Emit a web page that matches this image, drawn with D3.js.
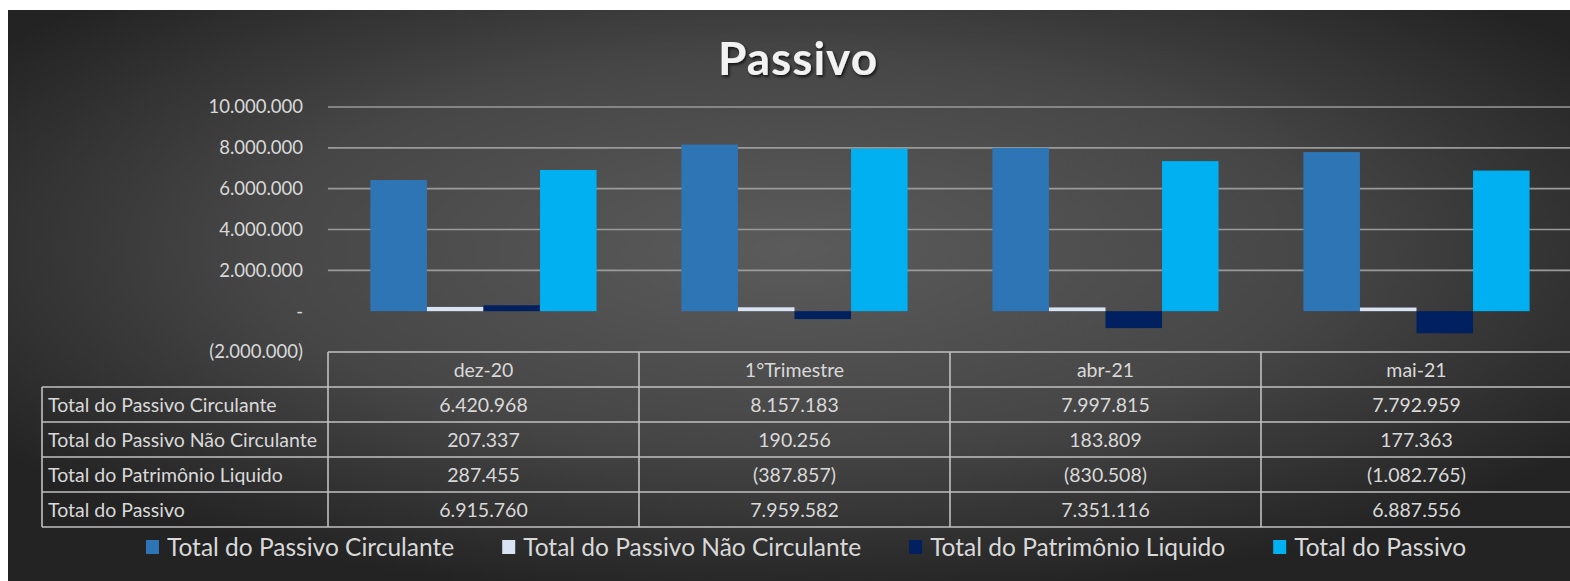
<!DOCTYPE html>
<html>
<head>
<meta charset="utf-8">
<script src="https://cdn.jsdelivr.net/npm/d3@7"></script>
<style>
  body { margin: 0; background: #fff; }
  svg { display: block; font-family: Lato, "Liberation Sans", sans-serif; }
</style>
</head>
<body>
<div id="chart"></div>
<script>
// data
const categories = ['dez-20', '1°Trimestre', 'abr-21', 'mai-21'];
const seriesNames = ['Total do Passivo Circulante', 'Total do Passivo Não Circulante', 'Total do Patrimônio Liquido', 'Total do Passivo'];
const circulante = [6420968, 8157183, 7997815, 7792959];
const naoCirculante = [207337, 190256, 183809, 177363];
const patrimonio = [287455, -387857, -830508, -1082765];
const totalPassivo = [6915760, 7959582, 7351116, 6887556];
const yTicks = [-2000000, 0, 2000000, 4000000, 6000000, 8000000, 10000000];
const colors = ['#2e75b6', '#dae3f3', '#002060', '#00b0f0'];

const seriesValues = [circulante, naoCirculante, patrimonio, totalPassivo];

const width = 1570, height = 581;
const tableTop = 352, rowH = 35, labelLeft = 42;

const locale = d3.formatLocale({decimal: ',', thousands: '.', grouping: [3], currency: ['R$', '']});
const fmtInt = locale.format(',.0f');
const fmtNum = v => v === 0 ? '-' : (v < 0 ? '(' + fmtInt(-v) + ')' : fmtInt(v));

const svg = d3.select('#chart').append('svg')
    .attr('width', width)
    .attr('height', height);

const defs = svg.append('defs');
const grad = defs.append('radialGradient')
    .attr('id', 'bg')
    .attr('cx', 0.5).attr('cy', 0.42).attr('r', 0.62);
grad.append('stop').attr('offset', '0%').attr('stop-color', '#5b5b5b');
grad.append('stop').attr('offset', '55%').attr('stop-color', '#464646');
grad.append('stop').attr('offset', '100%').attr('stop-color', '#232323');

const shadow = defs.append('filter').attr('id', 'shadow')
    .attr('x', '-10%').attr('y', '-20%').attr('width', '130%').attr('height', '150%');
shadow.append('feDropShadow')
    .attr('dx', 1.5).attr('dy', 2).attr('stdDeviation', 1.5)
    .attr('flood-color', '#000').attr('flood-opacity', 0.7);

svg.append('rect')
    .attr('x', 8).attr('y', 10)
    .attr('width', width - 8).attr('height', height - 10)
    .attr('fill', 'url(#bg)');

// title
svg.append('text')
    .attr('x', 798).attr('y', 75)
    .attr('text-anchor', 'middle')
    .attr('fill', '#f2f2f2')
    .style('font-size', '46px')
    .style('font-weight', 'bold')
    .style('letter-spacing', '1px')
    .attr('filter', 'url(#shadow)')
    .text('Passivo');

const x0 = d3.scaleBand()
    .domain(categories)
    .range([328, 328 + 4 * 311]);

const x1 = d3.scaleBand()
    .domain(seriesNames)
    .range([0, x0.bandwidth()])
    .paddingOuter(0.75);

const y = d3.scaleLinear()
    .domain([-2000000, 10000000])
    .range([tableTop, 107]);

// gridlines
svg.append('g')
    .selectAll('line')
    .data(yTicks.filter(d => d > 0))
    .join('line')
    .attr('x1', 328).attr('x2', width)
    .attr('y1', d => y(d)).attr('y2', d => y(d))
    .attr('stroke', '#9a9a9a')
    .attr('stroke-width', 1.6);

// y axis
const yAxis = svg.append('g')
    .attr('transform', 'translate(305,0)')
    .call(d3.axisLeft(y).tickValues(yTicks).tickSize(0).tickPadding(2).tickFormat(fmtNum));
yAxis.select('.domain').remove();
yAxis.selectAll('text')
    .attr('fill', '#d9d9d9')
    .style('font-size', '18.5px')
    .style('font-family', 'Lato, "Liberation Sans", sans-serif');

// bars
const groups = svg.append('g')
    .selectAll('g')
    .data(categories)
    .join('g')
    .attr('transform', d => `translate(${x0(d)},0)`);

groups.selectAll('rect')
    .data((c, i) => seriesNames.map((s, j) => ({s: s, v: seriesValues[j][i], c: colors[j]})))
    .join('rect')
    .attr('x', d => x1(d.s))
    .attr('width', x1.bandwidth())
    .attr('y', d => y(Math.max(0, d.v)))
    .attr('height', d => Math.abs(y(d.v) - y(0)))
    .attr('fill', d => d.c);

// data table
const table = svg.append('g');
const lineColor = '#c0c0c0';
const right = x0.range()[1];
const tableBottom = tableTop + rowH * (seriesNames.length + 1);

// horizontal lines
table.append('line')
    .attr('x1', x0.range()[0]).attr('x2', right)
    .attr('y1', tableTop).attr('y2', tableTop);
table.selectAll('.hline')
    .data(d3.range(1, seriesNames.length + 2))
    .join('line')
    .attr('class', 'hline')
    .attr('x1', labelLeft).attr('x2', right)
    .attr('y1', d => tableTop + d * rowH).attr('y2', d => tableTop + d * rowH);
// vertical lines
table.append('line')
    .attr('x1', labelLeft).attr('x2', labelLeft)
    .attr('y1', tableTop + rowH).attr('y2', tableBottom);
table.selectAll('.vline')
    .data(categories)
    .join('line')
    .attr('class', 'vline')
    .attr('x1', d => x0(d)).attr('x2', d => x0(d))
    .attr('y1', tableTop).attr('y2', tableBottom);
table.selectAll('line')
    .attr('stroke', lineColor)
    .attr('stroke-width', 1.6);

const cellFont = '19.5px';
// header
table.selectAll('.head')
    .data(categories)
    .join('text')
    .attr('class', 'head')
    .attr('x', d => x0(d) + x0.bandwidth() / 2)
    .attr('y', tableTop + rowH / 2)
    .attr('dy', '0.36em')
    .attr('text-anchor', 'middle')
    .text(d => d);
// row labels
table.selectAll('.rowlabel')
    .data(seriesNames)
    .join('text')
    .attr('class', 'rowlabel')
    .attr('x', labelLeft + 6)
    .attr('y', (d, i) => tableTop + rowH * (i + 1) + rowH / 2)
    .attr('dy', '0.36em')
    .text(d => d);
// values
seriesNames.forEach((s, j) => {
    table.selectAll('.val' + j)
        .data(seriesValues[j])
        .join('text')
        .attr('class', 'val' + j)
        .attr('x', (d, i) => x0(categories[i]) + x0.bandwidth() / 2)
        .attr('y', tableTop + rowH * (j + 1) + rowH / 2)
        .attr('dy', '0.36em')
        .attr('text-anchor', 'middle')
        .text(d => fmtNum(d));
});
table.selectAll('text')
    .attr('fill', '#d9d9d9')
    .style('font-size', cellFont);

// legend
const legend = svg.append('g');
const items = legend.selectAll('g')
    .data(seriesNames)
    .join('g');
items.append('rect')
    .attr('width', 13).attr('height', 14)
    .attr('y', -7)
    .attr('fill', (d, i) => colors[i]);
items.append('text')
    .attr('x', 21)
    .attr('dy', '0.36em')
    .attr('fill', '#d9d9d9')
    .style('font-size', '24.5px')
    .text(d => d);
let lx = 0;
const offsets = [];
items.each(function () {
    offsets.push(lx);
    lx += 21 + this.querySelector('text').getComputedTextLength() + 48;
});
const legendW = lx - 48;
const legendStart = 806 - legendW / 2;
items.attr('transform', (d, i) => `translate(${legendStart + offsets[i]},547)`);
</script>
</body>
</html>
